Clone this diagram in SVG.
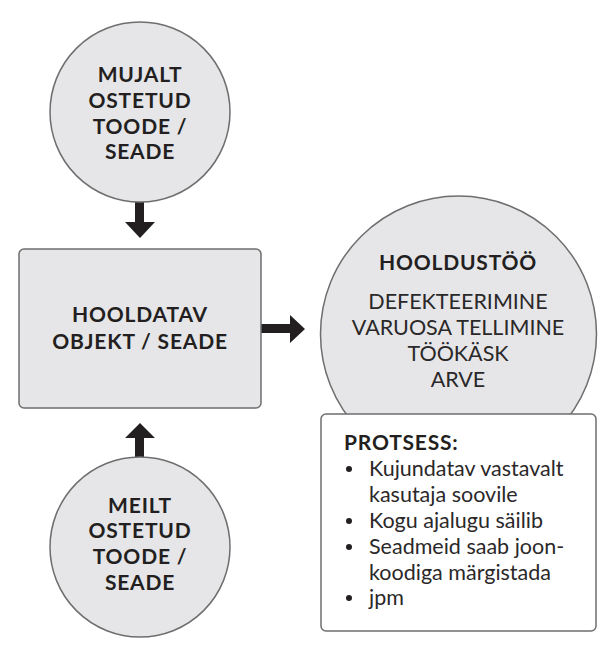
<svg xmlns="http://www.w3.org/2000/svg" width="615" height="650" viewBox="0 0 615 650">
<style>
.bg{fill:#ffffff}
.node{fill:#e6e6e8;stroke:#6e6e6e;stroke-width:1.5}
.box{fill:#ffffff;stroke:#6e6e6e;stroke-width:1.5}
.b{font-family:Lato,"Open Sans",sans-serif;font-weight:700;font-size:21px;letter-spacing:0.8px;fill:#231f20;text-anchor:middle}
.s{text-anchor:start}
.l{font-family:Lato,"Open Sans",sans-serif;font-weight:400;font-size:21.5px;fill:#2b2829}
.m{text-anchor:middle}
.arrow{fill:#231f20}
</style>
<rect class="bg" x="0" y="0" width="615" height="650"/>
<g id="connectors">
  <path class="arrow" d="M135,202 H144 V222 H155 L140,238 L125,222 H135 Z"/>
  <path class="arrow" d="M135,457 H144 V438 H155 L140,423 L125,438 H135 Z"/>
  <path class="arrow" d="M261,324 V333 H290 V343 L305,329 L290,315 V324 Z"/>
</g>
<g id="mujalt">
  <circle class="node" cx="140" cy="112" r="90"/>
  <text class="b" x="140" y="82">MUJALT</text>
  <text class="b" x="140" y="108">OSTETUD</text>
  <text class="b" x="140" y="134">TOODE /</text>
  <text class="b" x="140" y="159">SEADE</text>
</g>
<g id="hooldatav">
  <rect class="node" x="19" y="249" width="242" height="159" rx="5"/>
  <text class="b" x="140" y="322">HOOLDATAV</text>
  <text class="b" x="140" y="349">OBJEKT / SEADE</text>
</g>
<g id="meilt">
  <circle class="node" cx="140" cy="547" r="90"/>
  <text class="b" x="140" y="513">MEILT</text>
  <text class="b" x="140" y="538">OSTETUD</text>
  <text class="b" x="140" y="564">TOODE /</text>
  <text class="b" x="140" y="590">SEADE</text>
</g>
<g id="hooldustoo">
  <circle class="node" cx="458.5" cy="334" r="138"/>
  <text class="b" x="458" y="270">HOOLDUSTÖÖ</text>
  <text class="l m" x="458" y="309">DEFEKTEERIMINE</text>
  <text class="l m" x="458" y="335">VARUOSA TELLIMINE</text>
  <text class="l m" x="458" y="361">TÖÖKÄSK</text>
  <text class="l m" x="458" y="387">ARVE</text>
</g>
<g id="protsess">
  <rect class="box" x="321" y="414" width="275" height="217" rx="5"/>
  <text class="b s" x="344" y="450">PROTSESS:</text>
  <g class="l">
    <circle cx="349" cy="469" r="3" class="arrow"/>
    <text x="369" y="476">Kujundatav vastavalt</text>
    <text x="369" y="502">kasutaja soovile</text>
    <circle cx="349" cy="521" r="3" class="arrow"/>
    <text x="369" y="528">Kogu ajalugu säilib</text>
    <circle cx="349" cy="547" r="3" class="arrow"/>
    <text x="369" y="554">Seadmeid saab joon-</text>
    <text x="369" y="580">koodiga märgistada</text>
    <circle cx="349" cy="598" r="3" class="arrow"/>
    <text x="369" y="605">jpm</text>
  </g>
</g>
</svg>
